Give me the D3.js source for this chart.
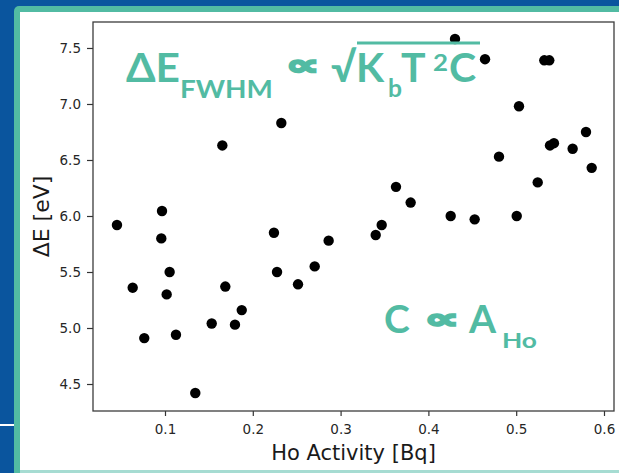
<!DOCTYPE html>
<html>
<head>
<meta charset="utf-8">
<script src="https://cdn.jsdelivr.net/npm/d3@7"></script>
<style>
  html, body { margin: 0; padding: 0; background: #0a559e; }
  svg { display: block; }
</style>
</head>
<body>
<svg id="chart" width="619" height="473"></svg>
<script>
// Ho activity [Bq] of each detector pixel
const activity = [
  0.0453, 0.0632, 0.0764, 0.0958, 0.0966, 0.1019, 0.1053, 0.1125, 0.1345, 0.1532,
  0.1653, 0.1687, 0.1797, 0.1874, 0.2241, 0.2276, 0.2325, 0.2515, 0.2705, 0.2864,
  0.3400, 0.3468, 0.3631, 0.3798, 0.4254, 0.4303, 0.4527, 0.4645, 0.4804, 0.5006,
  0.5032, 0.5245, 0.5320, 0.5377, 0.5385, 0.5430, 0.5643, 0.5795, 0.5860
];
// Energy resolution ΔE [eV] of each pixel
const resolution = [
  5.92, 5.36, 4.91, 5.80, 6.045, 5.30, 5.50, 4.94, 4.42, 5.04,
  6.63, 5.37, 5.03, 5.16, 5.85, 5.50, 6.83, 5.39, 5.55, 5.78,
  5.83, 5.92, 6.26, 6.12, 6.00, 7.58, 5.97, 7.40, 6.53, 6.00,
  6.98, 6.30, 7.39, 7.39, 6.63, 6.65, 6.60, 6.75, 6.43
];
const xTicks = [0.1, 0.2, 0.3, 0.4, 0.5, 0.6];
const yTicks = [4.5, 5.0, 5.5, 6.0, 6.5, 7.0, 7.5];

const svg = d3.select("#chart");
const teal = "#52bba3";

// slide frame: blue background, teal border, white panel
svg.append("rect").attr("x", 0).attr("y", 0).attr("width", 619).attr("height", 473).attr("fill", "#0a559e");
svg.append("rect").attr("x", 14).attr("y", 6).attr("width", 640).attr("height", 500)
  .attr("rx", 5).attr("fill", teal);
svg.append("rect").attr("x", 20).attr("y", 12).attr("width", 620).attr("height", 458).attr("fill", "#ffffff");
svg.append("rect").attr("x", 20).attr("y", 470).attr("width", 620).attr("height", 3).attr("fill", "#a6dcd2");
svg.append("rect").attr("x", 0).attr("y", 424).attr("width", 14).attr("height", 2).attr("fill", "#ffffff");

// plot area
const pLeft = 93, pRight = 614, pTop = 22, pBottom = 411;
const x = d3.scaleLinear().domain([0.018, 0.6114]).range([pLeft, pRight]);
const y = d3.scaleLinear().domain([4.259, 7.732]).range([pBottom, pTop]);

const tickFont = "'DejaVu Sans', sans-serif";

const xAxis = svg.append("g").attr("transform", `translate(0,${pBottom})`)
  .call(d3.axisBottom(x).tickValues(xTicks).tickSize(5).tickPadding(8).tickFormat(d3.format(".1f")));
const yAxis = svg.append("g").attr("transform", `translate(${pLeft},0)`)
  .call(d3.axisLeft(y).tickValues(yTicks).tickSize(6).tickPadding(6).tickFormat(d3.format(".1f")));

[xAxis, yAxis].forEach(g => {
  g.select(".domain").remove();
  g.selectAll("line").attr("stroke", "#333").attr("stroke-width", 1.2);
  g.selectAll("text").attr("font-family", tickFont).attr("font-size", 13.5).attr("fill", "#262626");
});

// spines
svg.append("rect").attr("x", pLeft).attr("y", pTop).attr("width", pRight - pLeft).attr("height", pBottom - pTop)
  .attr("fill", "none").attr("stroke", "#3c3c3c").attr("stroke-width", 1.3);

// points
svg.append("g").selectAll("circle")
  .data(activity.map((a, i) => [a, resolution[i]]))
  .join("circle")
  .attr("cx", d => x(d[0]))
  .attr("cy", d => y(d[1]))
  .attr("r", 5.2)
  .attr("fill", "#000");

// axis titles
svg.append("text").attr("x", (pLeft + pRight) / 2).attr("y", 460)
  .attr("text-anchor", "middle").attr("font-family", tickFont).attr("font-size", 21).attr("fill", "#1a1a1a")
  .text("Ho Activity [Bq]");
svg.append("text").attr("transform", `translate(49,${(pTop + pBottom) / 2}) rotate(-90)`)
  .attr("text-anchor", "middle").attr("font-family", tickFont).attr("font-size", 22).attr("fill", "#1a1a1a")
  .text("ΔE [eV]");

// formulas
const fx = "Lato, 'Open Sans', sans-serif";
function put(str, px, py, size, width, family) {
  const t = svg.append("text").attr("x", px).attr("y", py)
    .attr("font-family", family || fx).attr("font-weight", 700)
    .attr("font-size", size).attr("fill", teal).text(str);
  if (width) t.attr("textLength", width).attr("lengthAdjust", "spacingAndGlyphs");
  return t;
}
const dv = "'DejaVu Sans', sans-serif";
put("ΔE", 126, 82, 41, 54);
put("FWHM", 180, 98, 25, 93);
put("∝", 286, 75, 29, 33, dv).attr("stroke", teal).attr("stroke-width", 2.2);
put("√", 331, 82, 41);
put("K", 356, 82, 41);
put("b", 388, 97, 24, 14);
put("T", 401, 82, 41);
put("2", 433, 71, 23, 15);
put("C", 449, 82, 41);
svg.append("rect").attr("x", 357).attr("y", 41.5).attr("width", 123).attr("height", 3).attr("fill", teal);

put("C", 384, 333, 39);
put("∝", 425, 328, 27, 34, dv).attr("stroke", teal).attr("stroke-width", 2.2);
put("A", 469, 333, 39);
put("Ho", 502, 348, 21, 35);
</script>
</body>
</html>
